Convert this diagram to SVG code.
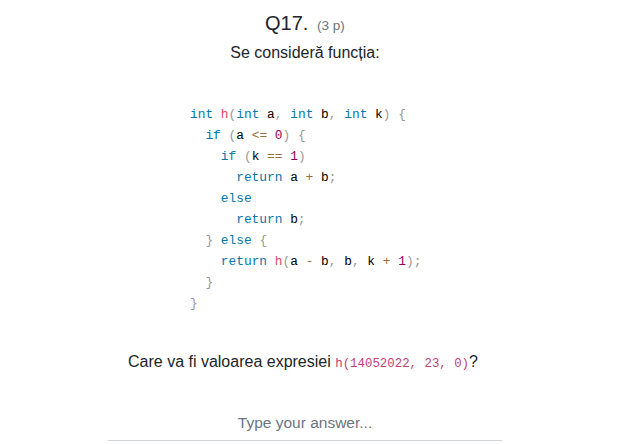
<svg xmlns="http://www.w3.org/2000/svg" width="630" height="444" viewBox="0 0 630 444">
<style>
.sans{font-family:"Liberation Sans",Arial,sans-serif}
.code{font-family:"Liberation Mono","DejaVu Sans Mono",monospace;font-size:12.85px;white-space:pre;fill:#000}
.kw{fill:#0077aa}.fn{fill:#dd4a68}.pu{fill:#999999}.nu{fill:#990055}.op{fill:#9a6e3a}
</style>
<rect width="630" height="444" fill="#ffffff"/>
<g id="header">
<text class="sans" x="265" y="30" font-size="20" fill="#212529">Q17.</text>
<text class="sans" x="317" y="30" font-size="13.5" fill="#6c757d">(3 p)</text>
<text class="sans" x="305" y="58" font-size="16" fill="#212529" text-anchor="middle">Se consideră funcția:</text>
</g>
<g id="code">
<text class="code" x="190" y="117.8"><tspan class="kw">int</tspan> <tspan class="fn">h</tspan><tspan class="pu">(</tspan><tspan class="kw">int</tspan> a<tspan class="pu">,</tspan> <tspan class="kw">int</tspan> b<tspan class="pu">,</tspan> <tspan class="kw">int</tspan> k<tspan class="pu">)</tspan> <tspan class="pu">{</tspan></text>
<text class="code" x="205.4" y="138.8"><tspan class="kw">if</tspan> <tspan class="pu">(</tspan>a <tspan class="op">&lt;=</tspan> <tspan class="nu">0</tspan><tspan class="pu">)</tspan> <tspan class="pu">{</tspan></text>
<text class="code" x="220.8" y="159.8"><tspan class="kw">if</tspan> <tspan class="pu">(</tspan>k <tspan class="op">==</tspan> <tspan class="nu">1</tspan><tspan class="pu">)</tspan></text>
<text class="code" x="236.2" y="180.8"><tspan class="kw">return</tspan> a <tspan class="op">+</tspan> b<tspan class="pu">;</tspan></text>
<text class="code" x="220.8" y="201.8"><tspan class="kw">else</tspan></text>
<text class="code" x="236.2" y="222.8"><tspan class="kw">return</tspan> b<tspan class="pu">;</tspan></text>
<text class="code" x="205.4" y="243.8"><tspan class="pu">}</tspan> <tspan class="kw">else</tspan> <tspan class="pu">{</tspan></text>
<text class="code" x="220.8" y="264.8"><tspan class="kw">return</tspan> <tspan class="fn">h</tspan><tspan class="pu">(</tspan>a <tspan class="op">-</tspan> b<tspan class="pu">,</tspan> b<tspan class="pu">,</tspan> k <tspan class="op">+</tspan> <tspan class="nu">1</tspan><tspan class="pu">)</tspan><tspan class="pu">;</tspan></text>
<text class="code" x="205.4" y="285.8"><tspan class="pu">}</tspan></text>
<text class="code" x="190" y="306.8"><tspan class="pu">}</tspan></text>
</g>
<g id="question">
<text class="sans" x="128" y="367" font-size="16" fill="#212529">Care va fi valoarea expresiei <tspan font-family="'Liberation Mono','DejaVu Sans Mono',monospace" font-size="12.4" fill="#c0407a">h(14052022, 23, 0)</tspan>?</text>
</g>
<g id="answer">
<text class="sans" x="305" y="428" font-size="15.5" fill="#6c757d" text-anchor="middle">Type your answer...</text>
<line x1="108" y1="440.5" x2="502" y2="440.5" stroke="#ced4da" stroke-width="1"/>
</g>
</svg>
